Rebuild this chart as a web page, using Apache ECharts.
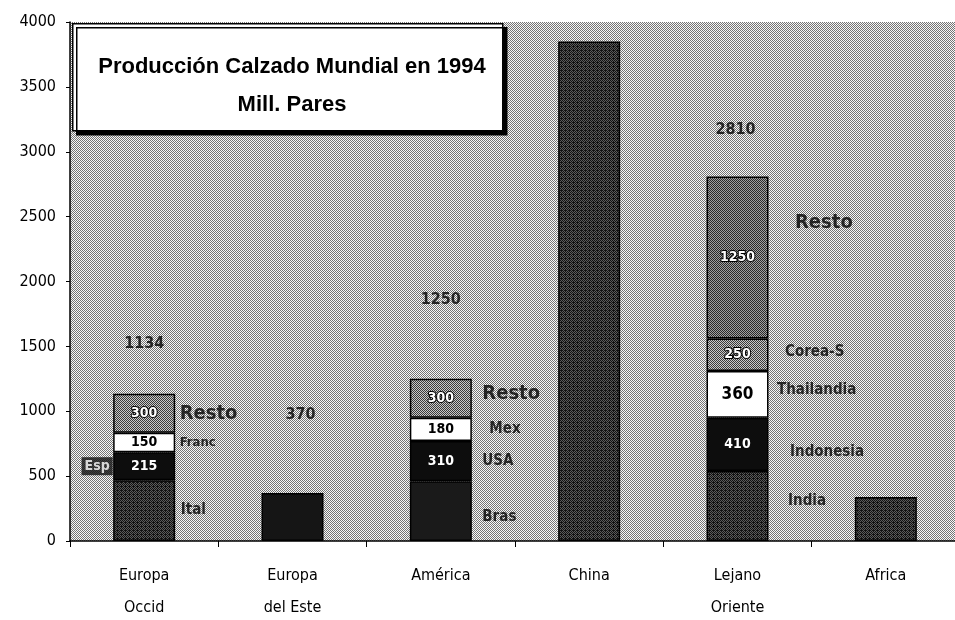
<!DOCTYPE html>
<html>
<head>
<meta charset="utf-8">
<script src="https://cdn.jsdelivr.net/npm/echarts@6/dist/echarts.min.js"></script>
<style>html,body{margin:0;padding:0;background:#fff;}#chart{width:955px;height:620px;}</style>
</head>
<body>
<div id="chart"></div>
<script>
// ---- data ----
const categories = ['Europa\nOccid', 'Europa\ndel Este', 'América', 'China', 'Lejano\nOriente', 'Africa'];
const seg1 = [469, 370, 460, 3850, 540, 340];
const seg2 = [215, null, 310, null, 410, null];
const seg3 = [150, null, 180, null, 360, null];
const seg4 = [300, null, 300, null, 250, null];
const seg5 = [null, null, null, null, 1250, null];
const names1 = ['Ital', '', 'Bras', '', 'India', ''];
const names2 = ['Esp', '', 'USA', '', 'Indonesia', ''];
const names3 = ['Franc', '', 'Mex', '', 'Thailandia', ''];
const names4 = ['Resto', '', 'Resto', '', 'Corea-S', ''];
const names5 = ['', '', '', '', 'Resto', ''];
const showTotal = [true, true, true, false, true, false];
const yMin = 0, yMax = 4000, yStep = 500;
const titleText = 'Producción Calzado Mundial en 1994\nMill. Pares';

// ---- style / layout (not data) ----
const FONT = '"Liberation Sans Narrow", "DejaVu Sans Condensed", "Liberation Sans", Arial, sans-serif';
function pattern(dark, light, mode) {
  const c = document.createElement('canvas');
  c.width = 4; c.height = 4;
  const g = c.getContext('2d');
  g.fillStyle = light; g.fillRect(0, 0, 4, 4);
  g.fillStyle = dark;
  for (let y = 0; y < 4; y++) for (let x = 0; x < 4; x++) {
    if (mode === 'checker' ? ((x + y) % 2 === 0) : ((x + y) % 2 === 0 || (x === 1 && y === 2))) g.fillRect(x, y, 1, 1);
  }
  return { image: c, repeat: 'repeat' };
}
const bgPat = pattern('#747474', '#f8f8f8', 'checker');
const darkPat = pattern('#111111', '#5a5a5a', 'dense');
const grayPat = pattern('#3a3a3a', '#c8c8c8', 'checker');
const midPat = pattern('#2a2a2a', '#a0a0a0', 'checker');

const segs = [seg1, seg2, seg3, seg4, seg5];
const names = [names1, names2, names3, names4, names5];
const levelColors = [
  [darkPat, '#151515', '#1a1a1a', darkPat, darkPat, darkPat],
  ['#0d0d0d', '#0d0d0d', '#0d0d0d', '#0d0d0d', '#0d0d0d', '#0d0d0d'],
  ['#ffffff', '#ffffff', '#ffffff', '#ffffff', '#ffffff', '#ffffff'],
  [grayPat, grayPat, grayPat, grayPat, grayPat, grayPat],
  [midPat, midPat, midPat, midPat, midPat, midPat]
];
const valueLabelColor = ['#fff', '#fff', '#000', '#fff', '#fff'];
// name label layout per level/category: [side, gap, dy, fontSize]
const nameLayout = [
  [['right', 5, 0, 15], null, ['right', 10, 6, 15], null, ['right', 19, -5, 15], null],
  [['left', 0, 0, 14], null, ['right', 10, 0, 15], null, ['right', 21, 8, 15], null],
  [['right', 4, 0, 13], null, ['right', 17, 0, 15], null, ['right', 8, -4, 15], null],
  [['right', 4, 0, 20], null, ['right', 10, -4, 20], null, ['right', 16, -3, 15], null],
  [null, null, null, null, ['right', 26, -35, 20], null]
];
const totalLayout = [[0, 42], [8, 70], [0, 70], null, [-2, 38], null]; // [dx, distance]
const HALF_BAR = 31;

// ---- series ----
const series = [];
segs.forEach((arr, lvl) => {
  series.push({
    type: 'bar', stack: 'total', barWidth: 62, z: 2,
    data: arr.map((v, i) => v == null ? null : {
      value: v,
      itemStyle: { color: levelColors[lvl][i], borderColor: '#000', borderWidth: 1.5 }
    }),
    label: {
      show: lvl > 0, position: 'inside', fontFamily: FONT, fontWeight: 'bold',
      fontSize: 14,
      color: valueLabelColor[lvl],
      textBorderColor: lvl === 3 || lvl === 4 ? '#000' : 'transparent',
      textBorderWidth: lvl === 3 || lvl === 4 ? 2 : 0,
      formatter: p => p.value
    }
  });
});
series[2].data[4].label = { fontSize: 17 };

// name labels, placed at the middle of each segment
const nameData = [];
categories.forEach((c, i) => {
  let base = 0;
  segs.forEach((arr, lvl) => {
    const v = arr[i];
    if (v == null) return;
    const n = names[lvl][i];
    const lay = nameLayout[lvl][i];
    if (n && lay) {
      const isLeft = lay[0] === 'left';
      nameData.push({
        value: [i, base + v / 2],
        label: {
          show: true, formatter: n, position: lay[0], distance: HALF_BAR + lay[1],
          offset: [0, lay[2]], fontSize: lay[3],
          color: isLeft ? '#fff' : '#000',
          backgroundColor: isLeft ? '#111' : 'transparent',
          padding: isLeft ? [2, 3, 2, 3] : 0
        }
      });
    }
    base += v;
  });
});
series.push({
  type: 'scatter', symbolSize: 1, itemStyle: { color: 'transparent' }, z: 5, silent: true,
  label: { show: true, fontFamily: FONT, fontWeight: 'bold', color: '#000' },
  data: nameData
});

const totalData = [];
categories.forEach((c, i) => {
  if (!showTotal[i]) return;
  const t = segs.reduce((s, arr) => s + (arr[i] || 0), 0);
  const lay = totalLayout[i];
  totalData.push({ value: [i, t], label: { show: true, formatter: String(t), position: 'top', distance: lay[1], offset: [lay[0], 0] } });
});
series.push({
  type: 'scatter', symbolSize: 1, itemStyle: { color: 'transparent' }, z: 5, silent: true,
  label: { show: true, fontFamily: FONT, fontWeight: 'bold', fontSize: 16, color: '#000' },
  data: totalData
});

const chart = echarts.init(document.getElementById('chart'), null, { renderer: 'canvas' });
chart.setOption({
  animation: false,
  backgroundColor: '#ffffff',
  textStyle: { fontFamily: FONT },
  title: {
    text: titleText, left: 287, top: 43, textAlign: 'center', z: 10,
    textStyle: { fontFamily: '"Liberation Sans", Arial, sans-serif', fontSize: 22, fontWeight: 'bold', lineHeight: 38, color: '#000' }
  },
  graphic: [{
    type: 'rect', z: 8, left: 72, top: 23,
    shape: { width: 430, height: 107 },
    style: { fill: '#fff', stroke: '#000', lineWidth: 1.5, shadowColor: '#000', shadowOffsetX: 4, shadowOffsetY: 4, shadowBlur: 0 }
  }],
  grid: { left: 70, right: -5, top: 22, bottom: 79, show: true, backgroundColor: bgPat, borderWidth: 0, outerBoundsMode: 'none', containLabel: false },
  xAxis: {
    type: 'category', data: categories,
    axisLine: { lineStyle: { color: '#000', width: 1.5 } },
    axisTick: { show: true, length: 6, lineStyle: { color: '#000' } },
    axisLabel: { color: '#000', fontSize: 16, margin: 19, lineHeight: 32, fontFamily: FONT }
  },
  yAxis: {
    type: 'value', min: yMin, max: yMax, interval: yStep,
    splitLine: { show: false },
    axisLine: { show: true, lineStyle: { color: '#000', width: 1.5 } },
    axisTick: { show: true, length: 4, lineStyle: { color: '#000' } },
    axisLabel: { color: '#000', fontSize: 16, margin: 14, fontFamily: FONT, formatter: v => String(v) }
  },
  series: series
});
</script>
</body>
</html>
